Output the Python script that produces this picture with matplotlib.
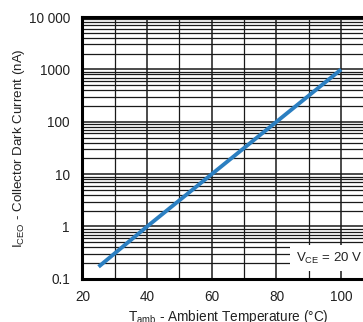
import numpy as np
import matplotlib.pyplot as plt
from matplotlib.ticker import FixedLocator, NullFormatter

plt.rcParams['font.family'] = ['Liberation Sans', 'DejaVu Sans']

# Дані кривої
temp = [25, 40, 60, 80, 100]
dark_current = [0.17, 1.0, 10, 100, 1000]

y_ticks = [0.1, 1, 10, 100, 1000, 10000]
y_labels = ['0.1', '1', '10', '100', '1000', '10 000']
x_ticks = [20, 40, 60, 80, 100, 120]

fig = plt.figure(figsize=(3.63, 3.22), dpi=100)
ax = fig.add_axes([0.227, 0.134, 1.118 - 0.227, 0.947 - 0.134])

ax.set_yscale('log')
ax.set_xlim(20, 120)
ax.set_ylim(0.1, 10000)

# Сітка
minor_y = [m * 10.0 ** e for e in range(-1, 4) for m in range(2, 10)]
ax.yaxis.set_minor_locator(FixedLocator(minor_y))
ax.yaxis.set_minor_formatter(NullFormatter())
ax.set_xticks(np.arange(20, 121, 10), minor=True)
ax.grid(True, which='major', color='#1a1a1a', linewidth=1.1)
ax.grid(True, which='minor', color='#1a1a1a', linewidth=0.9)

ax.plot(temp, dark_current, color='#2b7fc1', linewidth=2.8, solid_capstyle='butt', zorder=3)

ax.set_xticks(x_ticks)
ax.set_xticklabels([str(t) for t in x_ticks])
ax.set_yticks(y_ticks)
ax.set_yticklabels(y_labels)
ax.tick_params(axis='both', which='both', length=0, labelsize=9.8, colors='#222222')
ax.tick_params(axis='y', pad=9)
ax.tick_params(axis='x', pad=8)

for s in ax.spines.values():
    s.set_linewidth(2.2)

ax.text(86, 0.25, r'V$_{\mathregular{CE}}$ = 20 V', fontsize=9.5, va='center', ha='left',
        bbox=dict(facecolor='white', edgecolor='none', pad=4), zorder=4, color='#222222')

ax.set_ylabel(r'I$_{\mathregular{CEO}}$ - Collector Dark Current (nA)', fontsize=9.6, color='#222222')
ax.set_xlabel(r'T$_{\mathregular{amb}}$ - Ambient Temperature (°C)', fontsize=9.8, color='#222222')
ax.xaxis.set_label_coords(0.45, -0.11)
ax.yaxis.set_label_coords(-0.17, 0.5)

fig.savefig('out.png', dpi=100)
